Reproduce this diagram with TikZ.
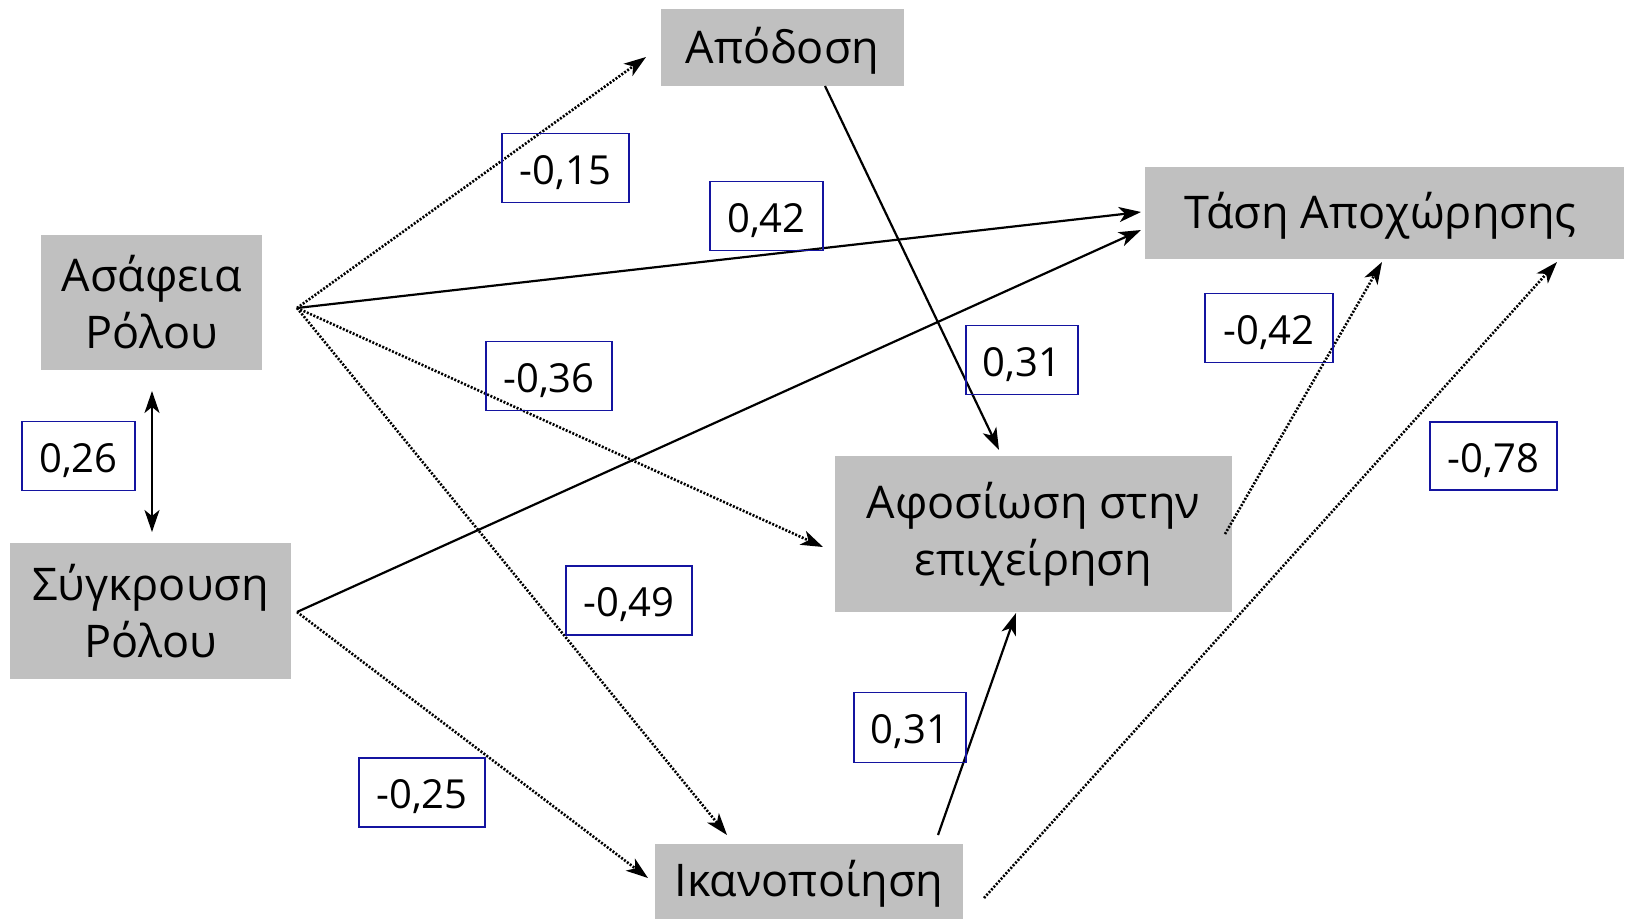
\documentclass[tikz,border=0pt]{standalone}
\usepackage{fontspec}
\setmainfont{Open Sans}
\usetikzlibrary{arrows.meta}
\definecolor{boxgray}{RGB}{192,192,192}
\definecolor{labelblue}{RGB}{20,20,160}
\begin{document}
\begin{tikzpicture}[x=1pt,y=-1pt,
  var/.style={fill=boxgray, draw=none, inner sep=0pt, align=center,
    font=\fontsize{45}{57}\selectfont},
  oneline/.style={text height=40pt, text depth=9pt},
  coef/.style={draw=labelblue, line width=1.6pt, inner sep=0pt,
    text height=38pt, text depth=6pt,
    font=\fontsize{40}{48}\selectfont},
  tip/.style={-{Stealth[length=22pt,width=15pt,inset=6pt]}},
  solidarrow/.style={tip, line width=2.2pt},
  dotarrow/.style={tip, line width=2.6pt, dash pattern=on 2pt off 1.6pt},
]
\useasboundingbox (0,0) rectangle (1625,919);
\fill[white] (0,0) rectangle (1625,919);

% variables
\node[var, oneline, minimum width=243pt, minimum height=77pt] (apo) at (782.5,47.5) {Απόδοση};
\node[var, oneline, minimum width=479pt, minimum height=92pt] (tasi) at (1384.5,213) {\hspace*{-8pt}Τάση Αποχώρησης};
\node[var, minimum width=221pt, minimum height=135pt] (asaf) at (151.5,302.5) {Ασάφεια\\Ρόλου};
\node[var, minimum width=281pt, minimum height=136pt] (sygk) at (150.5,611) {Σύγκρουση\\Ρόλου};
\node[var, minimum width=397pt, minimum height=156pt] (afos) at (1033.5,534) {Αφοσίωση στην\\επιχείρηση};
\node[var, oneline, minimum width=308pt, minimum height=75pt] (ikan) at (809,881) {Ικανοποίηση};

% connector end points
\coordinate (asafOut) at (297,308);
\coordinate (sygkOut) at (297,612);
\coordinate (apoIn) at (646,57);
\coordinate (apoOut) at (825,86);
\coordinate (tasiInA) at (1141,212);
\coordinate (tasiInB) at (1141,230);
\coordinate (tasiInC) at (1382,262);
\coordinate (tasiInD) at (1557,262);
\coordinate (afosInL) at (823,547);
\coordinate (afosInT) at (999,450);
\coordinate (afosInB) at (1016,613);
\coordinate (afosOut) at (1225,534);
\coordinate (ikanInA) at (727,835);
\coordinate (ikanInB) at (648,878);
\coordinate (ikanOut) at (938,835);
\coordinate (ikanOutR) at (984,898);
\coordinate (corTop) at (152,391);
\coordinate (corBot) at (152,532);

% paths
\draw[dotarrow] (asafOut) -- (apoIn);
\draw[solidarrow] (asafOut) -- (tasiInA);
\draw[dotarrow] (asafOut) -- (afosInL);
\draw[dotarrow] (asafOut) -- (ikanInA);
\draw[solidarrow] (sygkOut) -- (tasiInB);
\draw[dotarrow] (sygkOut) -- (ikanInB);
\draw[solidarrow] (apoOut) -- (afosInT);
\draw[solidarrow] (ikanOut) -- (afosInB);
\draw[dotarrow] (afosOut) -- (tasiInC);
\draw[dotarrow] (ikanOutR) -- (tasiInD);
\draw[solidarrow, {Stealth[length=22pt,width=15pt,inset=6pt]}-{Stealth[length=22pt,width=15pt,inset=6pt]}] (corTop) -- (corBot);

% coefficients
\node[coef, minimum width=127pt, minimum height=69pt] (c15) at (565.5,168) {-0,15};
\node[coef, minimum width=113pt, minimum height=69pt] (c42) at (766.5,216) {0,42};
\node[coef, minimum width=126pt, minimum height=69pt] (c36) at (549,376) {-0,36};
\node[coef, minimum width=112pt, minimum height=69pt] (c31a) at (1022,360) {0,31};
\node[coef, minimum width=128pt, minimum height=69pt] (c42n) at (1269,328) {-0,42};
\node[coef, minimum width=127pt, minimum height=68pt] (c78) at (1493.5,456) {-0,78};
\node[coef, minimum width=113pt, minimum height=69pt] (c26) at (78.5,456) {0,26};
\node[coef, minimum width=126pt, minimum height=69pt] (c49) at (629,600.5) {-0,49};
\node[coef, minimum width=112pt, minimum height=70pt] (c31b) at (910,727.5) {0,31};
\node[coef, minimum width=126pt, minimum height=69pt] (c25) at (422,792.5) {-0,25};
\end{tikzpicture}
\end{document}
